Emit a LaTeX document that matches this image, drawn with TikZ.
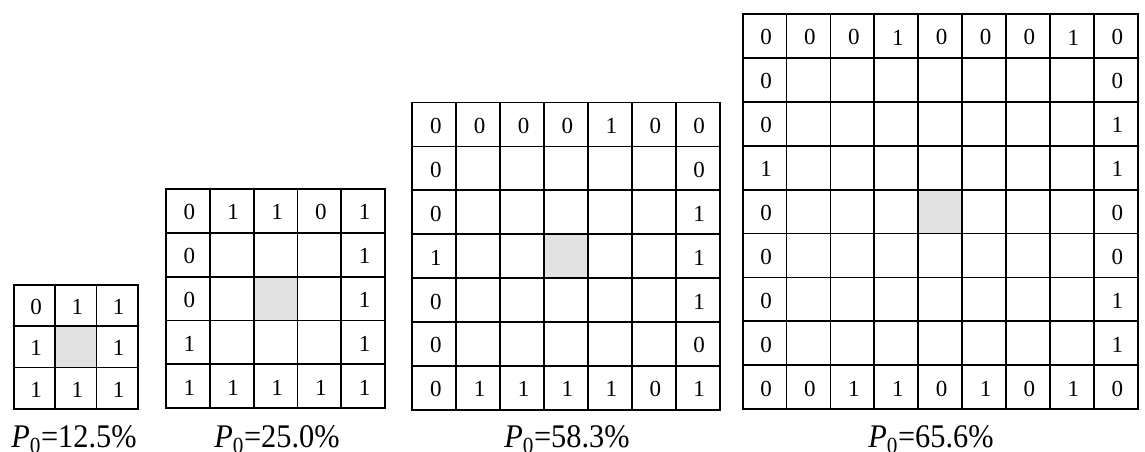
\documentclass[tikz,border=0pt]{standalone}
\usepackage{fontspec}
\usepackage{graphicx}
\setmainfont{Liberation Serif}
\definecolor{cellgray}{HTML}{E2E2E2}
\tikzset{
  cell/.style={draw=black, line width=1.8pt, fill=white, inner sep=0pt, font=\fontsize{23}{23}\selectfont},
  centercell/.style={cell, fill=cellgray},
  digit/.style={inner sep=0pt, font=\fontsize{23}{23}\selectfont},
  plabel/.style={anchor=base, inner sep=0pt, font=\fontsize{33}{33}\selectfont}
}
\newcommand{\plab}[1]{\scalebox{0.92}[1]{{\itshape P}\textsubscript{0}=#1\%}}
% #1 name, #2 n, #3 left x, #4 top y, #5 cell size, #6 rows
\newcommand{\cellgrid}[6]{%
  \pgfmathtruncatemacro\midx{(#2+1)/2}%
  \foreach \rowvals [count=\ri] in {#6} {%
    \foreach \v [count=\ci] in \rowvals {%
      \def\cstyle{cell}%
      \ifnum\ri=\midx\relax\ifnum\ci=\midx\relax\def\cstyle{centercell}\fi\fi
      \node[\cstyle, minimum width=#5pt, minimum height=#5pt] (#1-\ri-\ci)
        at ({#3+(\ci-0.5)*#5}, {#4+(\ri-0.5)*#5}) {};
      \node[digit] (#1-\ri-\ci-t) at ([xshift=1.5pt, yshift=-1.5pt]#1-\ri-\ci.center) {\v};
    }%
  }%
}
\begin{document}
\begin{tikzpicture}[x=1pt, y=-1pt]
\useasboundingbox (0,0) rectangle (1145,452);
\cellgrid{ga}{3}{14}{285}{41.2}{
  {0,1,1},
  {1,{},1},
  {1,1,1}}
\cellgrid{gb}{5}{166}{189}{43.8}{
  {0,1,1,0,1},
  {0,{},{},{},1},
  {0,{},{},{},1},
  {1,{},{},{},1},
  {1,1,1,1,1}}
\cellgrid{gc}{7}{412.3}{102.5}{43.9}{
  {0,0,0,0,1,0,0},
  {0,{},{},{},{},{},0},
  {0,{},{},{},{},{},1},
  {1,{},{},{},{},{},1},
  {0,{},{},{},{},{},1},
  {0,{},{},{},{},{},0},
  {0,1,1,1,1,0,1}}
\cellgrid{gd}{9}{742.6}{14}{43.9}{
  {0,0,0,1,0,0,0,1,0},
  {0,{},{},{},{},{},{},{},0},
  {0,{},{},{},{},{},{},{},1},
  {1,{},{},{},{},{},{},{},1},
  {0,{},{},{},{},{},{},{},0},
  {0,{},{},{},{},{},{},{},0},
  {0,{},{},{},{},{},{},{},1},
  {0,{},{},{},{},{},{},{},1},
  {0,0,1,1,0,1,0,1,0}}
\node[plabel] (la) at (74,447) {\plab{12.5}};
\node[plabel] (lb) at (277,447) {\plab{25.0}};
\node[plabel] (lc) at (567,447) {\plab{58.3}};
\node[plabel] (ld) at (931,447) {\plab{65.6}};
\end{tikzpicture}
\end{document}
